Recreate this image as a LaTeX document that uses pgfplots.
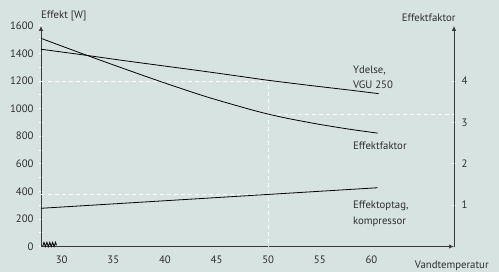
\documentclass[border=0pt]{standalone}
\usepackage{pgfplots}
\pgfplotsset{compat=1.18}
\usepackage{fontspec}
\setmainfont{PT Sans}
\usetikzlibrary{backgrounds,arrows.meta}
\definecolor{bg}{HTML}{D6E3E0}
\definecolor{txt}{HTML}{2E2E2E}
\definecolor{axc}{HTML}{3A3A3A}
\begin{document}
\begin{tikzpicture}[font=\fontsize{10.8}{13}\selectfont]
\pgfplotsset{
  common/.style={
    scale only axis, width=413bp, height=220.7bp,
    xmin=28, xmax=68,
    tick align=outside,
    major tick length=4bp, minor tick length=4bp,
    tick style={white, line width=0.7pt},
    every tick label/.append style={text=txt},
    /pgf/number format/assume math mode=true,
    /pgf/number format/1000 sep={},
    clip=false,
  }
}
\begin{axis}[common,
  name=ax,
  ymin=0, ymax=1600,
  axis x line=bottom, axis y line=left,
  axis line style={axc, line width=0.9pt, -{Latex[length=5bp,width=4.5bp]}},
  xtick={30,35,...,60},
  ytick={0,200,...,1600},
  minor ytick={100,300,...,1500},
  yticklabel style={xshift=-2bp},
  xticklabel style={yshift=-3.5bp},
  x tick style={white!75!gray},
]
\coordinate (O) at (rel axis cs:0,0);
% reference dashed lines
\addplot[white, line width=0.6pt, dash pattern=on 4bp off 3bp] coordinates {(28,1200) (50,1200) (50,0)};
\addplot[white, line width=0.6pt, dash pattern=on 4bp off 3bp] coordinates {(28,375) (50,375)};
% Ydelse
\addplot[black, line width=0.8pt, smooth] coordinates {
(28,1430) (32,1390) (36,1348) (40,1308) (44,1268) (48,1226) (50,1205) (54,1168) (58,1133) (60.7,1108)};
% Effektoptag
\addplot[black, line width=0.8pt] coordinates {(28,277) (44,350) (60.6,426)};
% zigzag break on the x axis
\addplot[black, line width=0.85pt, line join=miter] coordinates {
(28.15,0) (28.29,30) (28.43,0) (28.57,30) (28.71,0) (28.85,30) (28.99,0) (29.13,30) (29.27,0) (29.41,30) (29.5,10)};
% labels
\node[anchor=west, inner sep=0, text=txt] at ([yshift=9.8bp]rel axis cs:0,1) {Effekt [W]};
\node[anchor=west, inner sep=0, text=txt, align=left, font=\fontsize{10.8}{15.5}\selectfont] at (axis cs:58.2,1226) {Ydelse,\\VGU 250};
\node[anchor=west, inner sep=0, text=txt] at (axis cs:58.2,728) {Effektfaktor};
\node[anchor=west, inner sep=0, text=txt, align=left, font=\fontsize{10.8}{15.5}\selectfont] at (axis cs:58.2,237) {Effektoptag,\\kompressor};
\node[anchor=west, inner sep=0, text=txt] at ([yshift=-19.5bp]axis cs:64.2,0) {Vandtemperatur};
\node[anchor=east, inner sep=0, text=txt] at ([yshift=7.8bp, xshift=1.7bp]axis cs:68,1600) {Effektfaktor};
\end{axis}
\begin{axis}[common,
  ymin=0, ymax=5.3333,
  axis x line=none, axis y line=right,
  axis line style={axc, line width=0.9pt, -{Latex[length=5bp,width=4.5bp]}},
  ytick={1,2,3,4},
  yticklabel style={xshift=2bp},
]
\addplot[white, line width=0.6pt, dash pattern=on 4bp off 3bp] coordinates {(50.2,3.19) (68,3.19)};
\addplot[black, line width=0.8pt, smooth] coordinates {
(28,5.03) (32,4.66) (36,4.30) (40,3.95) (44,3.62) (48,3.33) (50,3.20) (52,3.09) (55,2.95) (58,2.83) (60.6,2.74)};
\end{axis}
\pgfresetboundingbox
\useasboundingbox ([xshift=-41bp,yshift=-25.5bp]O) rectangle ++(499bp,272bp);
\begin{scope}[on background layer]
\fill[bg] ([xshift=-41bp,yshift=-25.5bp]O) rectangle ++(499bp,272bp);
\end{scope}
\end{tikzpicture}
\end{document}
